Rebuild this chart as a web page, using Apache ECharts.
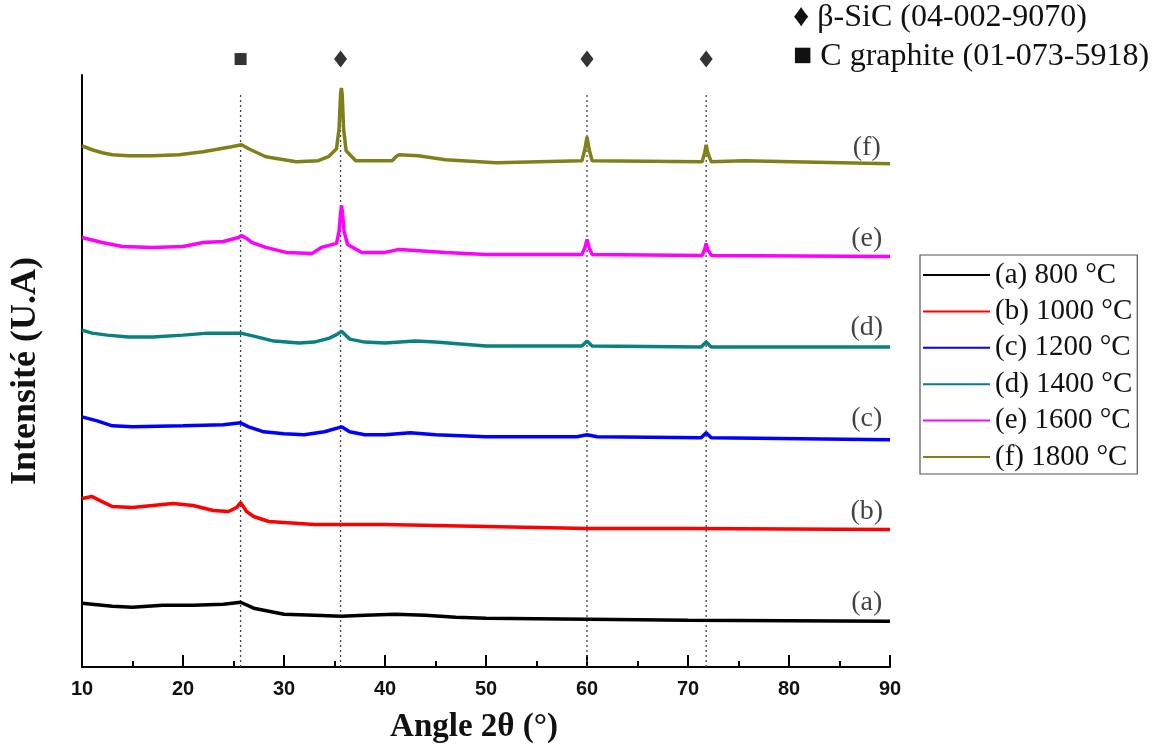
<!DOCTYPE html>
<html>
<head>
<meta charset="utf-8">
<script src="https://cdn.jsdelivr.net/npm/echarts@6/dist/echarts.min.js"></script>
<style>html,body{margin:0;padding:0;background:#fff}#c{width:1156px;height:749px}</style>
</head>
<body>
<div id="c"></div>
<script>
// ---- data (2θ in degrees, intensity in arbitrary offset units) ----
const seriesNames = ['(a) 800 °C','(b) 1000 °C','(c) 1200 °C','(d) 1400 °C','(e) 1600 °C','(f) 1800 °C'];
const seriesColors = ['#000000','#ff0000','#0000ff','#0a8080','#ff00ff','#80801a'];
const curveA = [[10,64],[11,63],[13,61],[15,60],[18,62],[21,62],[24,63],[25.7,65],[27,59],[28.5,56],[30,53],[33,52],[35.7,51],[38,52],[41,53],[44,52],[47,50],[50,49],[60,48],[70,47],[80,46.5],[90,46]];
const curveB = [[10,169],[11,171],[12,166],[13,161],[15,160],[17,162],[19,164],[21,162],[23,157],[24.5,156],[25.3,160],[25.7,165],[26.3,156],[27,151],[28.5,146],[30,145],[33,143],[35,143],[40,143],[45,142],[50,141],[60,139],[70,139],[80,138.5],[90,138]];
const curveC = [[10,251],[11.5,247],[13,242],[15,241],[20,242],[24,243],[25.7,245],[26.5,241],[28,236],[30,234],[32,233],[34,236],[35.7,241],[36.5,236],[38,233],[40,233],[42.5,235],[45,233],[50,231],[59,231],[60,233],[61,231],[71.3,230],[71.8,235],[72.3,230],[90,228]];
const curveD = [[10,338],[11,335],[12.5,333],[14.6,331],[17,331],[20,333],[22.5,335],[25.7,335],[27,332],[29,327],[31.5,325],[33,326],[34.5,330],[35.3,334],[35.7,337],[36.5,329],[38,326],[40,325],[43,327],[45,326],[50,322],[59.5,322],[60,327],[60.5,322],[71.3,321],[71.8,326],[72.3,321],[90,321]];
const curveE = [[10,431],[12,426],[14,422],[17,421],[20,422],[22,426],[24,427],[25.5,431],[25.8,433],[26.3,430],[26.8,426],[28.2,421],[30.2,416],[32.8,415],[33.7,421],[35.2,425],[35.45,437],[35.6,455],[35.7,463],[35.8,455],[35.95,437],[36.3,424],[37.7,416],[40,416],[41.4,419],[43,418],[46,416],[50,414],[59.5,414],[59.8,421],[60,429],[60.2,421],[60.5,414],[71.4,413],[71.65,419],[71.8,425],[71.95,419],[72.3,413],[90,412]];
const curveF = [[10,523],[11,519],[12,516],[13,514],[14.6,513],[17,513],[19.6,514],[22,517],[24.8,522],[25.8,524],[26.5,520],[28.2,512],[30,509],[31.2,507],[33.4,508],[34.4,512],[35.2,520],[35.45,540],[35.6,575],[35.68,581],[35.76,575],[35.9,540],[36.15,518],[37.1,508],[40.7,508],[41.2,513],[41.4,514],[43.3,513],[46,509],[51,506],[59.5,508],[59.8,520],[60,532],[60.2,520],[60.5,508],[71.4,507],[71.65,516],[71.8,524],[71.95,516],[72.3,507],[75.5,508],[90,505]];
const curves = [curveA, curveB, curveC, curveD, curveE, curveF];
const curveTags = ['(a)','(b)','(c)','(d)','(e)','(f)'];
const tagX = 87.7;
const tagY = [65, 156, 249, 341, 430, 521];
const refPeaks = [25.7, 35.6, 60.0, 71.8];
const refPeakTop = [574, 576, 576, 576];
const refPhase = ['graphite','SiC','SiC','SiC'];
const markerY = 610;
const xTicks = [10, 20, 30, 40, 50, 60, 70, 80, 90];
const phaseLegend = ['\u2666 \u03b2-SiC (04-002-9070)', '\u25a0 C graphite (01-073-5918)'];

const serif = '"Liberation Serif", "Times New Roman", serif';
const chart = echarts.init(document.getElementById('c'));
const series = [];
curves.forEach((d, i) => {
  series.push({
    name: seriesNames[i], type: 'line', data: d, showSymbol: false, symbol: 'none',
    lineStyle: { color: seriesColors[i], width: 3.5 }, itemStyle: { color: seriesColors[i] },
    z: 3
  });
});
refPeaks.forEach((p, i) => {
  series.push({
    name: 'ref' + i, type: 'line', data: [[p, 0], [p, refPeakTop[i]]], showSymbol: false, symbol: 'none',
    lineStyle: { color: '#444', width: 1.3, type: [2, 3] }, z: 1, silent: true
  });
});
series.push({
  name: 'markers', type: 'scatter', clip: false, silent: true,
  data: refPeaks.map((p, i) => ({ value: [p, markerY], symbol: refPhase[i] === 'graphite' ? 'rect' : 'diamond',
    symbolSize: refPhase[i] === 'graphite' ? [12, 12] : [13, 17] })),
  itemStyle: { color: '#000' }
});
series.push({
  name: 'tags', type: 'scatter', symbolSize: 0, silent: true,
  data: curveTags.map((t, i) => ({ value: [tagX, tagY[i]], name: t })),
  label: { show: true, position: 'inside', formatter: p => p.name, fontFamily: serif, fontSize: 28, color: '#111' }
});

chart.setOption({
  animation: false,
  backgroundColor: '#fff',
  grid: { left: 81, right: 266, top: 75, bottom: 80 },
  legend: {
    data: seriesNames, orient: 'vertical', left: 920, top: 255,
    icon: 'rect', itemWidth: 67, itemHeight: 2, itemGap: 6.4, itemTextGap: 6,
    padding: [5, 5, 2, 3],
    borderColor: '#555', borderWidth: 1.2,
    textStyle: { fontFamily: serif, fontSize: 29, color: '#111', lineHeight: 30 }
  },
  xAxis: {
    type: 'value', min: 10, max: 90, interval: 10,
    name: 'Angle 2\u03b8 (\u00b0)', nameLocation: 'middle', nameGap: 44,
    nameTextStyle: { fontFamily: serif, fontWeight: 'bold', fontSize: 33, color: '#111', padding: [0, 24, 0, 0] },
    axisLine: { lineStyle: { color: '#000', width: 2 } },
    axisTick: { inside: true, length: 12, lineStyle: { color: '#000', width: 2 } },
    minorTick: { show: true, splitNumber: 2, length: 6, lineStyle: { color: '#000', width: 2 } },
    axisLabel: { margin: 12, fontFamily: '"Liberation Sans", Arial, sans-serif', fontWeight: 'bold', fontSize: 20, color: '#111',
      customValues: xTicks },
    splitLine: { show: false }
  },
  yAxis: {
    type: 'value', min: 0, max: 594,
    name: 'Intensit\u00e9 (U.A)', nameLocation: 'middle', nameGap: 38,
    nameTextStyle: { fontFamily: serif, fontWeight: 'bold', fontSize: 36, color: '#111' },
    axisLine: { show: true, lineStyle: { color: '#000', width: 2 } },
    axisTick: { show: false }, axisLabel: { show: false }, splitLine: { show: false }
  },
  graphic: [
    { type: 'text', left: 793, top: 2, style: { text: phaseLegend[0], font: '32px ' + serif, fill: '#111' } },
    { type: 'text', left: 793, top: 41, style: { text: phaseLegend[1], font: '32px ' + serif, fill: '#111' } }
  ],
  series: series
});
</script>
</body>
</html>
